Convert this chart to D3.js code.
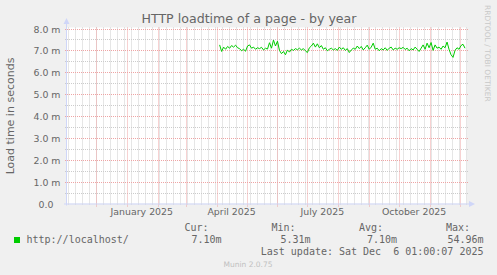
<!DOCTYPE html>
<html><head><meta charset="utf-8">
<script src="https://cdn.jsdelivr.net/npm/d3@7"></script>
<style>
body{margin:0;background:#f0f0f0}
text{white-space:pre}
</style>
</head><body>
<svg id="c" width="497" height="275"></svg>
<script>
// ---- data ----
const title = "HTTP loadtime of a page - by year";
const yAxisLabel = "Load time in seconds";
const yTicks = [0, 1, 2, 3, 4, 5, 6, 7, 8];
const yTickLabels = ["0.0", "1.0 m", "2.0 m", "3.0 m", "4.0 m", "5.0 m", "6.0 m", "7.0 m", "8.0 m"];
const monthLabelDates = ["2025-01-01", "2025-04-01", "2025-07-01", "2025-10-01"];
const monthLabelTexts = ["January 2025", "April 2025", "July 2025", "October 2025"];
const seriesName = "http://localhost/";
const seriesStart = "2025-04-04";
const seriesStepDays = 2;
const loadTimes = [
  7.25, 6.95, 7.15, 7.05, 7.18, 7.10, 7.22, 7.15, 7.24, 7.12,
  7.08, 6.98, 7.05, 6.96, 7.20, 7.25, 7.10, 7.15, 7.05, 7.12,
  7.08, 7.14, 7.02, 7.10, 7.06, 7.35, 7.10, 7.47, 7.20, 7.42,
  7.00, 6.85, 6.95, 6.80, 7.02, 6.92, 7.05, 7.00, 7.08, 7.03,
  7.10, 7.02, 7.08, 6.98, 6.90, 7.12, 7.20, 7.33, 7.15, 7.30,
  7.12, 7.22, 7.05, 7.12, 6.98, 7.05, 7.10, 7.02, 7.08, 7.00,
  7.15, 7.05, 7.12, 7.00, 7.08, 6.90, 7.02, 7.10, 7.05, 7.20,
  7.08, 7.18, 7.02, 7.12, 7.24, 7.05, 7.15, 7.33, 7.05, 7.10,
  6.98, 7.08, 7.02, 7.12, 7.00, 7.10, 7.15, 7.02, 7.10, 7.05,
  7.12, 7.08, 7.14, 7.04, 7.10, 6.98, 7.08, 7.02, 7.15, 7.05,
  6.95, 7.10, 7.25, 7.05, 7.33, 7.12, 7.36, 7.00, 7.25, 7.10,
  7.15, 7.05, 7.20, 7.12, 7.38, 7.05, 6.80, 6.68, 7.00, 7.12,
  7.05, 7.22, 7.28, 7.10
];
const legendHeaders = ["Cur:", "Min:", "Avg:", "Max:"];
const legendValues = ["7.10m", "5.31m", "7.10m", "54.96m"];
const lastUpdate = "Last update: Sat Dec  6 01:00:07 2025";
const watermark = "RRDTOOL / TOBI OETIKER";
const footer = "Munin 2.0.75";

// ---- drawing ----
const svg = d3.select("#c");
const C = {font:"#666666", axis:"#CFD6F8", mgrid:"#eea4a4", grid:"#cccccc", line:"#00cc00"};
const L = 67, R = 467, T = 28.5, B = 203.5;
const parse = d3.utcParse("%Y-%m-%d");
const x = d3.scaleUtc().domain([parse("2024-11-02"), parse("2025-12-08")]).range([L, R]);
const y = d3.scaleLinear().domain([0, 8]).range([B, T]);
const px = v => Math.round(v) + 0.5;

svg.append("rect").attr("width", 497).attr("height", 275).attr("fill", "#f0f0f0");
svg.append("rect").attr("x", L).attr("y", T - 1).attr("width", R - L).attr("height", B - T + 1).attr("fill", "#fff");

const g = svg.append("g");
// minor horizontal grid (0.5 steps)
const minorY = yTicks.slice(0, -1).map(v => v + 0.5);
g.selectAll(".hm").data(minorY).join("line")
  .attr("x1", L - 2).attr("x2", R + 2)
  .attr("y1", d => px(y(d))).attr("y2", d => px(y(d)))
  .attr("stroke", C.grid).attr("stroke-dasharray", "1,1");
// minor vertical grid (weekly)
const weeks = d3.utcSunday.range(parse("2024-11-03"), parse("2025-12-08"));
g.selectAll(".vm").data(weeks).join("line")
  .attr("x1", d => px(x(d))).attr("x2", d => px(x(d)))
  .attr("y1", T - 1).attr("y2", B + 2)
  .attr("stroke", C.grid).attr("stroke-dasharray", "1,1");
// major horizontal
g.selectAll(".hM").data(yTicks.slice(1)).join("line")
  .attr("x1", L - 2).attr("x2", R + 2)
  .attr("y1", d => px(y(d))).attr("y2", d => px(y(d)))
  .attr("stroke", C.mgrid).attr("stroke-dasharray", "1,1");
// major vertical (monthly)
const months = d3.utcMonth.range(parse("2024-12-01"), parse("2025-12-08"));
g.selectAll(".vM").data(months).join("line")
  .attr("x1", d => px(x(d))).attr("x2", d => px(x(d)))
  .attr("y1", T - 1).attr("y2", B + 3)
  .attr("stroke", C.mgrid).attr("stroke-dasharray", "1,1");

// data line
const dates = loadTimes.map((v, i) => d3.utcDay.offset(parse(seriesStart), i * seriesStepDays));
const line = d3.line().x((d, i) => x(dates[i])).y(d => y(d));
svg.append("path").datum(loadTimes).attr("d", line)
  .attr("fill", "none").attr("stroke", C.line).attr("stroke-width", 1);

// axes
svg.append("line").attr("x1", L - 0.5).attr("x2", L - 0.5).attr("y1", B + 2).attr("y2", 22)
  .attr("stroke", C.axis);
svg.append("line").attr("x1", L - 3).attr("x2", R + 3).attr("y1", B + 0.5).attr("y2", B + 0.5)
  .attr("stroke", C.axis);
svg.append("path").attr("d", `M${L-0.5-3},${24} L${L-0.5},${18} L${L-0.5+3},${24} Z`).attr("fill", C.axis);
svg.append("path").attr("d", `M${R+2},${B+0.5-3} L${R+8},${B+0.5} L${R+2},${B+0.5+3} Z`).attr("fill", C.axis);

// y tick labels
svg.selectAll(".yl").data(yTicks).join("text")
  .attr("x", (d, i) => i === 0 ? 53.5 : 60.5)
  .attr("y", d => px(y(d)) + 3.5)
  .attr("text-anchor", "end")
  .attr("font-family", "DejaVu Sans").attr("font-size", 9.4).attr("fill", C.font)
  .text((d, i) => yTickLabels[i]);

// x labels (centered mid-month)
svg.selectAll(".xl").data(monthLabelDates).join("text")
  .attr("x", d => x(d3.utcDay.offset(parse(d), 15)))
  .attr("y", 214.5)
  .attr("text-anchor", "middle")
  .attr("font-family", "DejaVu Sans").attr("font-size", 9.4).attr("fill", C.font)
  .text((d, i) => monthLabelTexts[i]);

// title
svg.append("text").attr("x", 249).attr("y", 23).attr("text-anchor", "middle")
  .attr("font-family", "DejaVu Sans").attr("font-size", 12.6).attr("fill", C.font).text(title);

// y axis label
svg.append("text").attr("transform", `translate(14,${(T + B) / 2}) rotate(-90)`)
  .attr("text-anchor", "middle")
  .attr("font-family", "DejaVu Sans").attr("font-size", 11).attr("fill", C.font).text(yAxisLabel);

// watermark
svg.append("text").attr("transform", `translate(485,5) rotate(90)`)
  .attr("font-family", "DejaVu Sans").attr("font-size", 7.5).attr("fill", "#c8c8c8").text(watermark);

// legend
const mono = "DejaVu Sans Mono";
svg.append("rect").attr("x", 14).attr("y", 237).attr("width", 6).attr("height", 6).attr("fill", C.line);
svg.append("text").attr("x", 26.5).attr("y", 242.5).attr("font-family", mono).attr("font-size", 10)
  .attr("fill", C.font).text(seriesName);
const hdrX = [208.5, 295.5, 383, 470];
const valX = [221.5, 310.5, 397, 483.5];
svg.selectAll(".lh").data(legendHeaders).join("text")
  .attr("x", (d, i) => hdrX[i]).attr("y", 230.5).attr("text-anchor", "end")
  .attr("font-family", mono).attr("font-size", 10).attr("fill", C.font).text(d => d);
svg.selectAll(".lv").data(legendValues).join("text")
  .attr("x", (d, i) => valX[i]).attr("y", 242.5).attr("text-anchor", "end")
  .attr("font-family", mono).attr("font-size", 10).attr("fill", C.font).text(d => d);
svg.append("text").attr("x", 483.5).attr("y", 254.5).attr("text-anchor", "end")
  .attr("font-family", mono).attr("font-size", 10).attr("fill", C.font).text(lastUpdate);

svg.append("text").attr("x", 248).attr("y", 267).attr("text-anchor", "middle")
  .attr("font-family", "DejaVu Sans").attr("font-size", 7.5).attr("fill", "#c0c0c0").text(footer);
</script>
</body></html>
